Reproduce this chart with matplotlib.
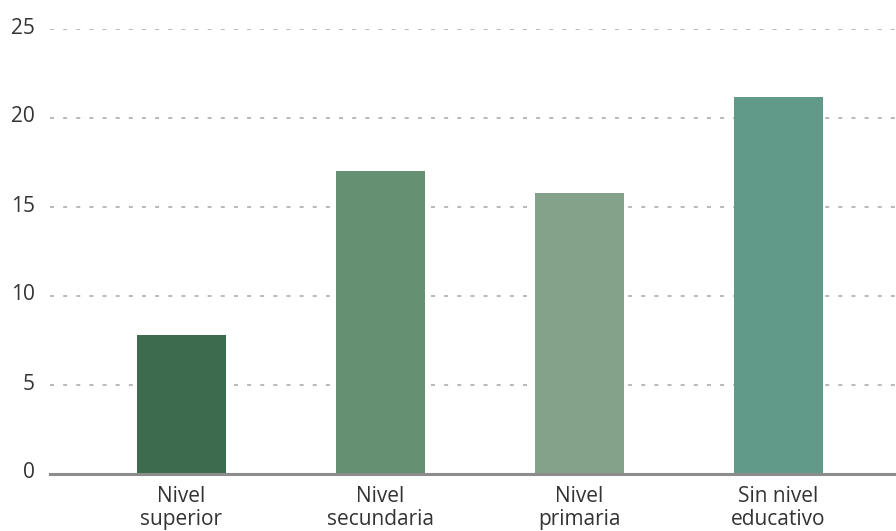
import matplotlib
matplotlib.use("Agg")
import matplotlib.pyplot as plt
from matplotlib.transforms import offset_copy

categories = ["Nivel\nsuperior", "Nivel\nsecundaria", "Nivel\nprimaria", "Sin nivel\neducativo"]
values = [7.8, 17.0, 15.8, 21.2]
colors = ["#3d6b4d", "#659072", "#84a28a", "#619a89"]
yticks = [0, 5, 10, 15, 20, 25]

plt.rcParams['font.family'] = ['Open Sans', 'DejaVu Sans']

fig = plt.figure(figsize=(8.96, 5.31), dpi=100)
ax = fig.add_axes([50/896, 57/531, 846/896, 445/531])

x = list(range(len(categories)))
ax.bar(x, values, width=0.447, color=colors, zorder=3)

ax.set_ylim(0, 25)
ax.set_xlim(-0.66, 3.59)
ax.set_yticks(yticks)
ax.set_yticklabels([str(t) for t in yticks])
ax.set_xticks(x)
ax.set_xticklabels(categories, linespacing=1.1)

for t in yticks[1:]:
    ax.axhline(t, color="#a6a6a6", lw=1.1, linestyle=(0, (2.6, 6.0)), zorder=1)

for s in ["top", "right", "left"]:
    ax.spines[s].set_visible(False)
ax.spines["bottom"].set_color("#8c8c8c")
ax.spines["bottom"].set_linewidth(2.2)
ax.spines["bottom"].set_zorder(4)

ax.tick_params(axis="both", length=0, labelsize=15, labelcolor="#333333")
ax.tick_params(axis="y", pad=11)
ax.tick_params(axis="x", pad=9)
for lbl in ax.get_yticklabels():
    lbl.set_verticalalignment("center")
    lbl.set_transform(offset_copy(lbl.get_transform(), fig=fig, x=0, y=1, units="dots"))

fig.savefig("out.png", dpi=100)
